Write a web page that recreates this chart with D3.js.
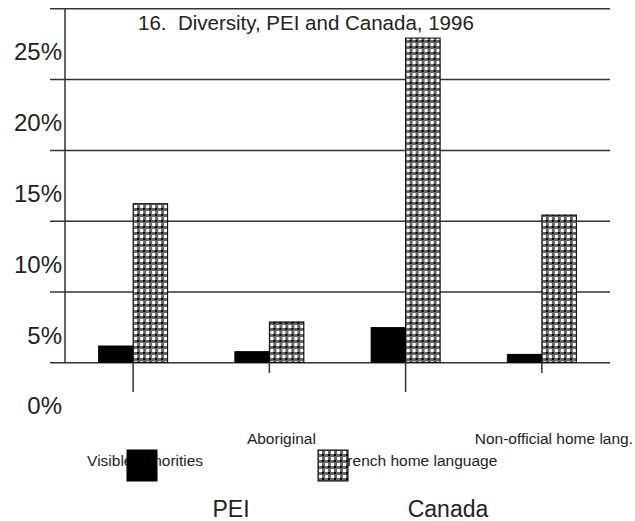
<!DOCTYPE html>
<html>
<head>
<meta charset="utf-8">
<script src="https://cdn.jsdelivr.net/npm/d3@7"></script>
<style>
  html, body { margin: 0; padding: 0; background: #fff; }
  svg { display: block; font-family: "Liberation Sans", Arial, Helvetica, sans-serif; }
</style>
</head>
<body>
<svg id="chart" width="635" height="521"></svg>
<script>
const title = "16.\u00a0 Diversity, PEI and Canada, 1996";
const categories = ["Visible minorities", "Aboriginal", "French home language", "Non-official home lang."];
const seriesNames = ["PEI", "Canada"];
const peiValues = [1.15, 0.75, 2.45, 0.56];
const canadaValues = [11.2, 2.85, 22.9, 10.4];
const yTicks = [0, 5, 10, 15, 20, 25];
const yTickLabels = ["0%", "5%", "10%", "15%", "20%", "25%"];

const svg = d3.select("#chart");

// checkered pattern
const defs = svg.append("defs");
const pat = defs.append("pattern").attr("id", "checker")
  .attr("patternUnits", "userSpaceOnUse").attr("width", 6).attr("height", 6);
pat.append("rect").attr("width", 6).attr("height", 6).attr("fill", "#666");
pat.append("rect").attr("x", 1).attr("y", 1).attr("width", 3).attr("height", 3).attr("fill", "#fff");
pat.append("rect").attr("x", 4).attr("y", 4).attr("width", 2).attr("height", 2).attr("fill", "#000");

const fills = ["#000", "url(#checker)"];

const x0 = 65, x1 = 610, yBottom = 362.3, yTop = 8.3;
const y = d3.scaleLinear().domain([0, 25]).range([yBottom, yTop]);
const x = d3.scaleBand().domain(categories).range([x0, x1]);
const xs = d3.scaleBand().domain(seriesNames).range([-34.5, 34.5]);

// gridlines via axis
const grid = svg.append("g").attr("transform", `translate(${x1},0)`)
  .call(d3.axisLeft(y).tickValues(yTicks).tickSize(x1 - 50).tickFormat(""));
grid.select(".domain").remove();
grid.selectAll(".tick line").attr("stroke", "#333").attr("stroke-width", 1.5);

// left axis line
svg.append("line").attr("x1", x0).attr("x2", x0).attr("y1", y(25)).attr("y2", y(0))
  .attr("stroke", "#333").attr("stroke-width", 1.5);

// y labels (offset below their gridlines as in the original)
svg.append("g").selectAll("text").data(yTicks).join("text")
  .attr("x", 62).attr("y", (d) => y(d) + 52)
  .attr("text-anchor", "end").attr("font-size", 24).attr("fill", "#222")
  .text((d, i) => yTickLabels[i]);

// bars
const data = categories.map((c, i) => ({ c, vals: [peiValues[i], canadaValues[i]] }));
const groups = svg.append("g").selectAll("g").data(data).join("g")
  .attr("transform", (d) => `translate(${x(d.c) + x.bandwidth() / 2},0)`);
groups.selectAll("rect").data((d) => d.vals.map((v, j) => ({ v, s: seriesNames[j], j })))
  .join("rect")
  .attr("x", (d) => xs(d.s)).attr("width", xs.bandwidth())
  .attr("y", (d) => y(d.v)).attr("height", (d) => y(0) - y(d.v))
  .attr("fill", (d) => fills[d.j]).attr("stroke", "#000").attr("stroke-width", 1);

// x ticks
svg.append("g").selectAll("line").data(categories).join("line")
  .attr("x1", (d) => x(d) + x.bandwidth() / 2).attr("x2", (d) => x(d) + x.bandwidth() / 2)
  .attr("y1", yBottom).attr("y2", (d, i) => i % 2 === 0 ? 392 : 373)
  .attr("stroke", "#333").attr("stroke-width", 1.5);

// x labels (staggered)
svg.append("g").selectAll("text").data(categories).join("text")
  .attr("x", (d) => x(d) + x.bandwidth() / 2 + 12)
  .attr("y", (d, i) => i % 2 === 0 ? 465.5 : 444)
  .attr("text-anchor", "middle").attr("font-size", 15.5).attr("fill", "#222")
  .text((d) => d);

// legend
const legX = [127, 318];
const legTextX = [231, 448];
seriesNames.forEach((s, j) => {
  svg.append("rect").attr("x", legX[j]).attr("y", 450).attr("width", 30).attr("height", 31)
    .attr("fill", fills[j]).attr("stroke", "#000").attr("stroke-width", 1);
  svg.append("text").attr("x", legTextX[j]).attr("y", 517)
    .attr("text-anchor", "middle").attr("font-size", 23).attr("fill", "#222").text(s);
});

// title
svg.append("text").attr("x", 138).attr("y", 30).attr("font-size", 20.5).attr("fill", "#222").text(title);
</script>
</body>
</html>
